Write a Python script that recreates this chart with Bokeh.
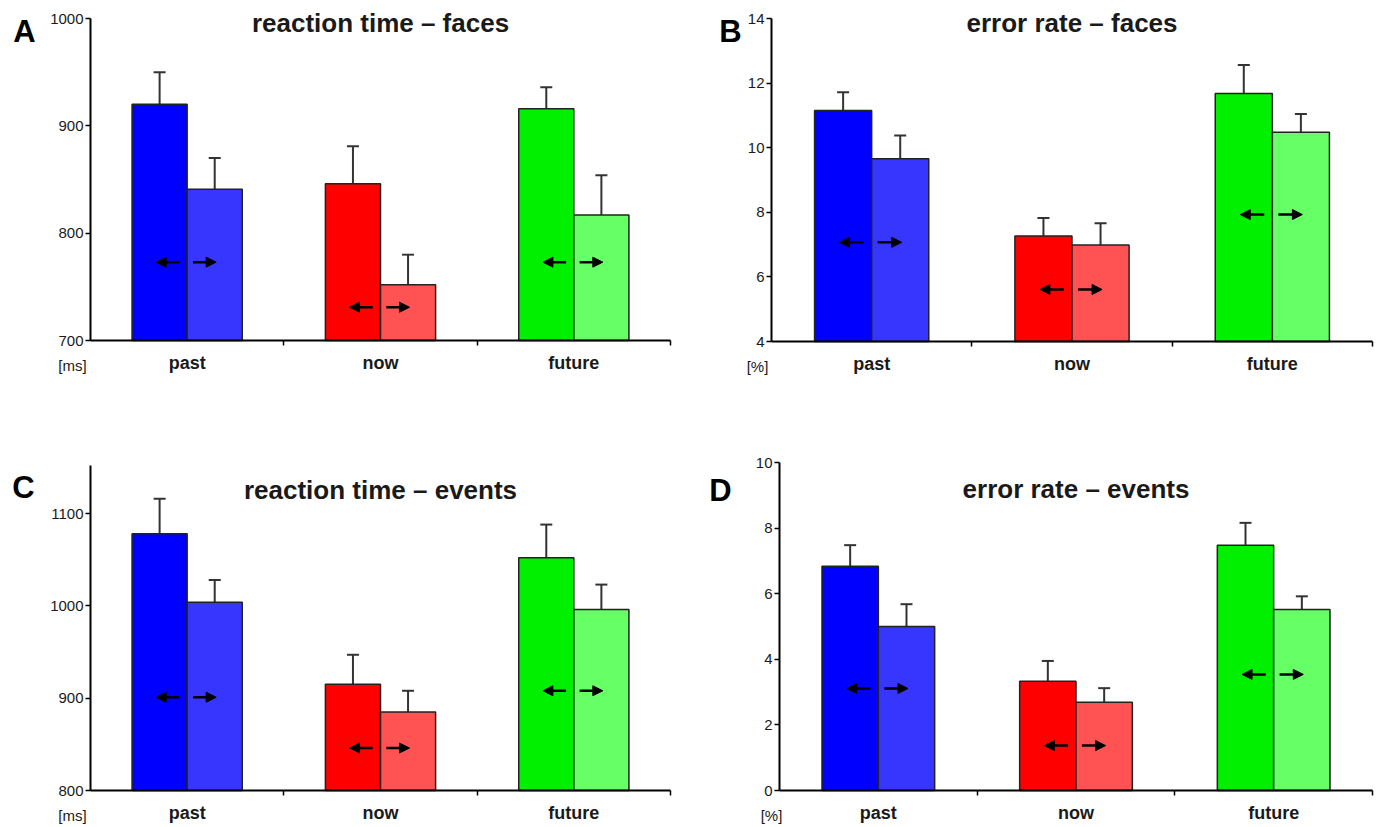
from bokeh.plotting import figure
from bokeh.models import (Range1d, FixedTicker, ColumnDataSource, Whisker, TeeHead,
                          Arrow, NormalHead, Label)
from bokeh.layouts import column, row
from bokeh.embed import file_html
from bokeh.resources import INLINE

# ---------------- data ----------------
categories = ["past", "now", "future"]

# panel A: reaction time - faces [ms]
rt_faces_left = [920, 846, 916]
rt_faces_left_err = [30, 35, 20]
rt_faces_right = [841, 752, 817]
rt_faces_right_err = [29, 28, 37]
rt_faces_arrow_y = [773, 731, 773]

# panel B: error rate - faces [%]
er_faces_left = [11.15, 7.27, 11.68]
er_faces_left_err = [0.57, 0.55, 0.88]
er_faces_right = [9.66, 6.99, 10.48]
er_faces_right_err = [0.72, 0.67, 0.56]
er_faces_arrow_y = [7.07, 5.61, 7.93]

# panel C: reaction time - events [ms]
rt_events_left = [1078, 915, 1052]
rt_events_left_err = [38, 32, 36]
rt_events_right = [1004, 885, 996]
rt_events_right_err = [24, 23, 27]
rt_events_arrow_y = [901, 846, 908]

# panel D: error rate - events [%]
er_events_left = [6.84, 3.33, 7.48]
er_events_left_err = [0.64, 0.62, 0.68]
er_events_right = [5.0, 2.69, 5.52]
er_events_right_err = [0.68, 0.43, 0.40]
er_events_arrow_y = [3.11, 1.37, 3.54]

left_colors = ["#0000FF", "#FF0000", "#00F000"]
right_colors = ["#3636FF", "#FF5252", "#66FF66"]

FONT = "Liberation Sans"
TXT = "#1a1a1a"
BAR_W = 0.285


def make_panel(letter, title, unit, left, left_err, right, right_err, arrow_y,
               yscale, ytop, yticks, size, box, title_off, letter_off, unit_off):
    # size: figure (W, H); box: pixel positions (xleft, xright, ytop_px, ybot_px)
    # of x = 0..3 and of y = yscale[1]..yscale[0] inside the figure
    W, H = size
    xl, xr, yt, yb = box
    y0, y1 = yscale
    xpx = (xr - xl) / 3.0
    ypx = (yb - yt) / float(y1 - y0)
    x_range = Range1d(-xl / xpx, 3 + (W - xr) / xpx)
    y_range = Range1d(y0 - (H - yb) / ypx, y1 + yt / ypx)

    p = figure(width=W, height=H, x_range=x_range, y_range=y_range,
               output_backend="svg", toolbar_location=None,
               min_border_left=0, min_border_right=0, min_border_top=0,
               min_border_bottom=0)
    p.xgrid.visible = False
    p.ygrid.visible = False
    p.outline_line_color = None
    p.background_fill_color = "white"
    p.border_fill_color = "white"

    centers = [i + 0.5 for i in range(len(categories))]
    src_l = ColumnDataSource(dict(
        x=[c - BAR_W / 2 for c in centers], top=left,
        upper=[v + e for v, e in zip(left, left_err)], color=left_colors))
    src_r = ColumnDataSource(dict(
        x=[c + BAR_W / 2 for c in centers], top=right,
        upper=[v + e for v, e in zip(right, right_err)], color=right_colors))

    for src in (src_l, src_r):
        p.vbar(x="x", width=BAR_W, top="top", bottom=y0, fill_color="color",
               line_color="#222222", line_width=1.5, source=src)
        p.add_layout(Whisker(source=src, base="x", lower="top", upper="upper",
                             line_color="#333333", line_width=2, lower_head=None,
                             upper_head=TeeHead(size=12, line_color="#333333",
                                                line_width=2)))

    arr_l = ColumnDataSource(dict(x0=[c - 0.04 for c in centers],
                                  x1=[c - 0.16 for c in centers],
                                  y=arrow_y))
    arr_r = ColumnDataSource(dict(x0=[c + 0.03 for c in centers],
                                  x1=[c + 0.15 for c in centers],
                                  y=arrow_y))
    for src in (arr_l, arr_r):
        p.add_layout(Arrow(source=src, x_start="x0", y_start="y", x_end="x1",
                           y_end="y", line_color="black", line_width=2.5,
                           end=NormalHead(size=10, fill_color="black",
                                          line_color="black", line_width=1)))

    # axes, drawn at fixed data positions inside the canvas
    xa = p.xaxis[0]
    xa.fixed_location = y0
    xa.bounds = (0, 3)
    xa.ticker = FixedTicker(ticks=centers, minor_ticks=[1, 2, 3])
    xa.major_label_overrides = {c: lab for c, lab in zip(centers, categories)}
    xa.major_tick_out = 0
    xa.major_tick_in = 0
    xa.minor_tick_out = 5
    xa.minor_tick_in = 0
    xa.minor_tick_line_color = "black"
    xa.minor_tick_line_width = 1.5
    xa.axis_line_width = 2
    xa.axis_line_color = "black"
    xa.major_label_text_font = FONT
    xa.major_label_text_font_style = "bold"
    xa.major_label_text_font_size = "18px"
    xa.major_label_text_color = TXT
    xa.major_label_standoff = 7

    ya = p.yaxis[0]
    ya.fixed_location = 0
    ya.bounds = (y0, ytop)
    ya.ticker = FixedTicker(ticks=yticks, minor_ticks=[])
    ya.major_tick_out = 5
    ya.major_tick_in = 0
    ya.major_tick_line_width = 1.5
    ya.minor_tick_line_color = None
    ya.axis_line_width = 2
    ya.axis_line_color = "black"
    ya.major_label_text_font = FONT
    ya.major_label_text_font_size = "15px"
    ya.major_label_text_color = TXT
    ya.major_label_standoff = 2

    p.add_layout(Label(x=1.5, y=ytop, y_offset=title_off, text=title,
                       text_font=FONT, text_font_style="bold", text_font_size="26px",
                       text_color=TXT, text_align="center", text_baseline="middle"))
    p.add_layout(Label(x=0, y=ytop, x_offset=letter_off[0], y_offset=letter_off[1],
                       text=letter, text_font=FONT, text_font_style="bold",
                       text_font_size="31px", text_color="black",
                       text_align="center", text_baseline="middle"))
    p.add_layout(Label(x=0, y=y0, x_offset=unit_off[0], y_offset=unit_off[1],
                       text=unit, text_font=FONT, text_font_size="15px",
                       text_color=TXT, text_align="center", text_baseline="middle"))
    return p


pA = make_panel("A", "reaction time \u2013 faces", "[ms]",
                rt_faces_left, rt_faces_left_err, rt_faces_right, rt_faces_right_err,
                rt_faces_arrow_y, (700, 1000), 1000, [700, 800, 900, 1000],
                (708, 428), (90, 670, 18, 340), -4, (-66, -13), (-18, -25))
pB = make_panel("B", "error rate \u2013 faces", "[%]",
                er_faces_left, er_faces_left_err, er_faces_right, er_faces_right_err,
                er_faces_arrow_y, (4, 14), 14, [4, 6, 8, 10, 12, 14],
                (673, 428), (63, 664, 18, 341), -4, (-41, -13), (-14, -25))
pC = make_panel("C", "reaction time \u2013 events", "[ms]",
                rt_events_left, rt_events_left_err, rt_events_right, rt_events_right_err,
                rt_events_arrow_y, (800, 1100), 1152, [800, 900, 1000, 1100],
                (708, 398), (90, 670, 85, 362), -25, (-67, -22), (-18, -25))
pD = make_panel("D", "error rate \u2013 events", "[%]",
                er_events_left, er_events_left_err, er_events_right, er_events_right_err,
                er_events_arrow_y, (0, 10), 10, [0, 2, 4, 6, 8, 10],
                (673, 398), (71, 664, 34, 362), -26, (-59, -28), (-8, -25))

layout = column(row(pA, pB), row(pC, pD))
open("out.html", "w").write(file_html(layout, INLINE))
